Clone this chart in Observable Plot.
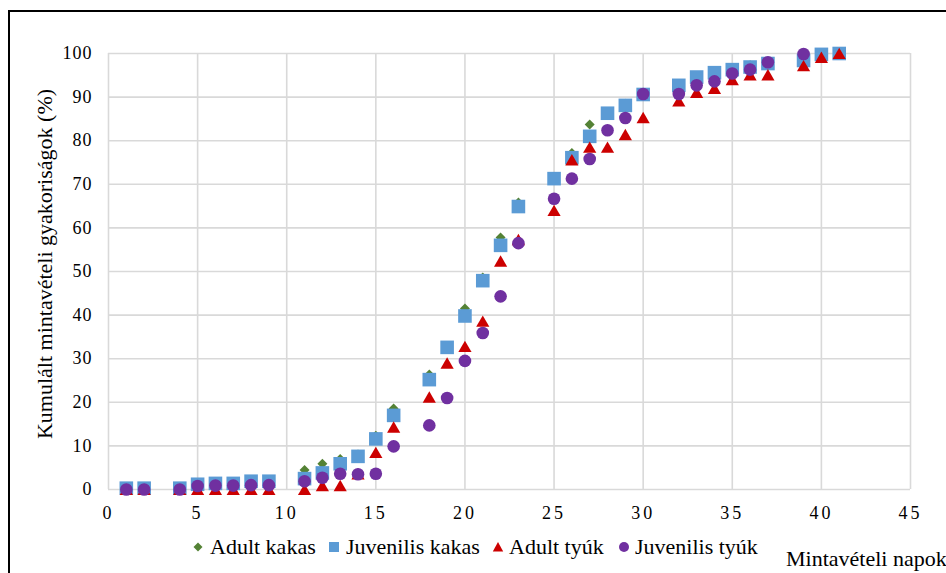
<!DOCTYPE html>
<html>
<head>
<meta charset="utf-8">
<script src="https://cdn.jsdelivr.net/npm/d3@7"></script>
<script src="https://cdn.jsdelivr.net/npm/@observablehq/plot@0.6"></script>
<style>
  html, body { margin: 0; padding: 0; background: #fff; }
  #wrap { position: relative; width: 946px; height: 573px; overflow: hidden; font-family: "Liberation Serif", "Times New Roman", serif; color: #000; }
  #frame { position: absolute; left: 8px; top: 10px; width: 1200px; height: 1200px; border-left: 2px solid #000; border-top: 2px solid #000; box-sizing: border-box; pointer-events: none; }
  #chart { position: absolute; left: 0; top: 0; }
  #ylab { position: absolute; left: 45px; top: 264px; transform: translate(-50%, -50%) rotate(-90deg); white-space: nowrap; font-size: 22px; }
  .leg { position: absolute; top: 535px; height: 24px; display: flex; align-items: center; font-size: 22px; white-space: nowrap; }
  .leg svg { display: block; }
  #xlab { position: absolute; left: 786px; top: 546px; font-size: 22px; white-space: nowrap; }
  #chart svg text { font-family: "Liberation Serif", "Times New Roman", serif; }
</style>
</head>
<body>
<div id="wrap">
  <div id="chart"></div>
  <div id="frame"></div>
  <div id="ylab"></div>
  <div id="legend"></div>
  <div id="xlab"></div>
</div>
<script>
// ---- data ----
const days = [1,2,4,5,6,7,8,9,11,12,13,14,15,16,18,19,20,21,22,23,25,26,27,28,29,30,32,33,34,35,36,37,39,40,41];
const adultKakas = [0,0,0,1.0,1.2,1.2,1.6,1.6,4.5,5.9,7.0,8.0,12.3,18.6,26.4,32.8,41.5,48.6,57.8,65.8,71.2,77.2,83.7,86.2,88.5,90.8,92.6,94.5,95.5,96.3,97.3,97.9,98.3,99.7,100];
const juvenilisKakas = [0.3,0.3,0.3,1.2,1.4,1.4,1.9,1.9,2.5,3.8,5.9,7.6,11.6,17.0,25.2,32.6,39.8,47.9,56.0,64.9,71.3,76.1,81.0,86.3,88.1,90.6,92.7,94.6,95.6,96.3,96.9,97.7,98.4,99.8,100];
const adultTyuk = [0,0,0,0,0,0,0,0,0,0.9,0.9,3.6,8.5,14.3,21.2,29.0,32.8,38.6,52.4,57.3,64.0,75.6,78.5,78.5,81.4,85.3,89.1,91.1,92.0,94.0,95.1,95.1,97.2,99.1,100];
const juvenilisTyuk = [0,0,0,0.8,0.9,0.9,1.0,1.0,1.9,2.7,3.6,3.5,3.6,9.9,14.7,21.0,29.5,35.9,44.3,56.5,66.7,71.3,75.8,82.4,85.2,90.7,90.7,92.7,93.6,95.4,96.3,98.0,99.9,null,null];
const seriesNames = ["Adult kakas", "Juvenilis kakas", "Adult tyúk", "Juvenilis tyúk"];
const xTicks = [0,5,10,15,20,25,30,35,40,45];
const yTicks = [0,10,20,30,40,50,60,70,80,90,100];
const xTitle = "Mintavételi napok";
const yTitle = "Kumulált mintavételi gyakoriságok (%)";

// ---- styles ----
const serif = '"Liberation Serif", "Times New Roman", serif';
const colors = ["#548235", "#5B9BD5", "#CC0000", "#7030A0"];
const diamondSym = { draw(c) { const r = 5; c.moveTo(0, -r); c.lineTo(r, 0); c.lineTo(0, r); c.lineTo(-r, 0); c.closePath(); } };
const squareSym = { draw(c) { const h = 6.8; c.moveTo(-h, -h); c.lineTo(h, -h); c.lineTo(h, h); c.lineTo(-h, h); c.closePath(); } };
const triangleSym = { draw(c) { c.moveTo(0, -5.8); c.lineTo(6.6, 5.6); c.lineTo(-6.6, 5.6); c.closePath(); } };
const circleSym = { draw(c) { c.moveTo(6.3, 0); c.arc(0, 0, 6.3, 0, 2 * Math.PI); c.closePath(); } };
const symbols = [diamondSym, squareSym, triangleSym, circleSym];
const values = [adultKakas, juvenilisKakas, adultTyuk, juvenilisTyuk];

const rows = values.map(vals => days.map((d, i) => ({ day: d, v: vals[i] })).filter(r => r.v != null));

const chart = Plot.plot({
  width: 946,
  height: 530,
  marginLeft: 108,
  marginRight: 36,
  marginTop: 53,
  marginBottom: 41,
  style: { fontFamily: serif, fontSize: "18px", color: "#000", background: "transparent", overflow: "visible" },
  x: { domain: [0, 45] },
  y: { domain: [0, 100] },
  marks: [
    Plot.gridX(xTicks, { stroke: "#d9d9d9", strokeOpacity: 1, strokeWidth: 1.6 }),
    Plot.gridY(yTicks, { stroke: "#d9d9d9", strokeOpacity: 1, strokeWidth: 1.6 }),
    Plot.axisX(xTicks, { tickSize: 0, tickPadding: 17, label: null, fontSize: 18 }),
    Plot.axisY(yTicks, { tickSize: 0, tickPadding: 16, label: null, fontSize: 18 }),
    ...rows.map((data, k) => Plot.dot(data, { x: "day", y: "v", symbol: symbols[k], r: 6, fill: colors[k], stroke: null }))
  ]
});
document.getElementById("chart").appendChild(chart);
d3.select(chart).selectAll('g[aria-label="x-axis tick label"] text').style("letter-spacing", "3px");
d3.select(chart).selectAll('g[aria-label="y-axis tick label"] text').style("letter-spacing", "1px");

document.getElementById("ylab").textContent = yTitle;
document.getElementById("xlab").textContent = xTitle;

// legend: [marker left edge, text left]
const legendPos = [[192, 210], [328, 346], [492, 509], [618, 635]];
const legendSyms = [
  `<svg width="12" height="24" viewBox="-6 -12 12 24"><path d="M0,-4.5L4.5,0L0,4.5L-4.5,0Z" fill="${colors[0]}"/></svg>`,
  `<svg width="12" height="24" viewBox="-6 -12 12 24"><rect x="-5" y="-5" width="10" height="10" fill="${colors[1]}"/></svg>`,
  `<svg width="12" height="24" viewBox="-6 -12 12 24"><path d="M0,-5L5.2,4.5L-5.2,4.5Z" fill="${colors[2]}"/></svg>`,
  `<svg width="12" height="24" viewBox="-6 -12 12 24"><circle r="5" fill="${colors[3]}"/></svg>`
];
const leg = document.getElementById("legend");
seriesNames.forEach((name, k) => {
  const s = document.createElement("div");
  s.className = "leg";
  s.style.left = legendPos[k][0] + "px";
  s.innerHTML = legendSyms[k];
  leg.appendChild(s);
  const t = document.createElement("div");
  t.className = "leg";
  t.style.left = legendPos[k][1] + "px";
  t.textContent = name;
  leg.appendChild(t);
});
</script>
</body>
</html>
